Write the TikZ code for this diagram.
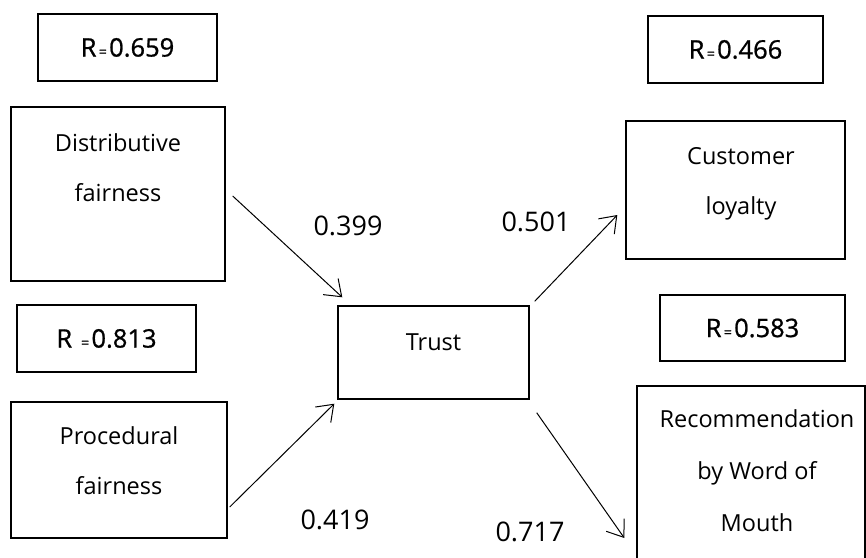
\documentclass[tikz,border=0pt]{standalone}
\usepackage{fontspec}
\setmainfont{Open Sans}
\newfontfamily\rfont{Open Sans}[FakeBold=0.9]
\usetikzlibrary{arrows.meta}
\tikzset{
    rbox/.style = {rectangle, draw=black, line width=2.2pt, inner sep=0pt, font=\rfont\fontsize{25.5}{28}\selectfont},
    varbox/.style = {rectangle, draw=black, line width=1.4pt, inner sep=0pt},
    boxtext/.style = {align=center, inner sep=0pt, font=\fontsize{23.5}{50}\selectfont},
    coef/.style = {inner sep=0pt, font=\fontsize{27}{30}\selectfont},
    link/.style = {line width=1pt, -{Straight Barb[length=15pt, width=22pt, line width=1pt]}}
}
\newcommand{\eqs}{{\fontsize{14}{14}\selectfont\,=\,}}

\begin{document}
\begin{tikzpicture}[x=1pt, y=-1pt]
	\useasboundingbox (0,0) rectangle (866,557);

	% R values
	\node[rbox, minimum width=179pt, minimum height=67pt](R1) at (127.5, 47.5){R\eqs0.659};
	\node[rbox, minimum width=179pt, minimum height=67pt](R2) at (106.5, 338.5){R \eqs0.813};
	\node[rbox, minimum width=175pt, minimum height=67pt](R3) at (735.5, 49.5){R\eqs0.466};
	\node[rbox, minimum width=185pt, minimum height=66pt](R4) at (752.5, 328){R\eqs0.583};

	% variables
	\node[varbox, minimum width=214pt, minimum height=174pt](N1) at (118, 194){} node[boxtext](T1) at (118, 168){Distributive\\fairness};
	\node[varbox, minimum width=216pt, minimum height=136pt](N2) at (119, 470){} node[boxtext](T2) at (119, 461){Procedural\\fairness};
	\node[varbox, minimum width=191pt, minimum height=93pt](N3) at (433.5, 352.5){} node[boxtext](T3) at (433.5, 342){Trust};
	\node[varbox, minimum width=219pt, minimum height=138pt](N4) at (735.5, 190){} node[boxtext](T4) at (741, 184){Customer\\loyalty};
	\node[varbox, minimum width=228pt, minimum height=214pt](N5) at (751, 493){} node[boxtext, font=\fontsize{23.5}{52}\selectfont](T5) at (757, 471){Recommendation\\by Word of\\Mouth};

	% paths
	\draw[link] ([xshift=7pt, yshift=-2pt]N1.east) -- ([xshift=5pt, yshift=8pt]N3.north west);
	\draw[link] ([xshift=2pt, yshift=-37pt]N2.east) -- ([xshift=-3pt, yshift=-4pt]N3.south west);
	\draw[link] ([xshift=5pt, yshift=4pt]N3.north east) -- ([xshift=-8pt, yshift=-25pt]N4.west);
	\draw[link] ([xshift=7pt, yshift=-13pt]N3.south east) -- ([xshift=-12pt, yshift=-45pt]N5.west);

	\node[coef](C1) at (348, 226){0.399};
	\node[coef](C2) at (536, 222){0.501};
	\node[coef](C3) at (335, 520){0.419};
	\node[coef](C4) at (530, 532){0.717};
\end{tikzpicture}
\end{document}
